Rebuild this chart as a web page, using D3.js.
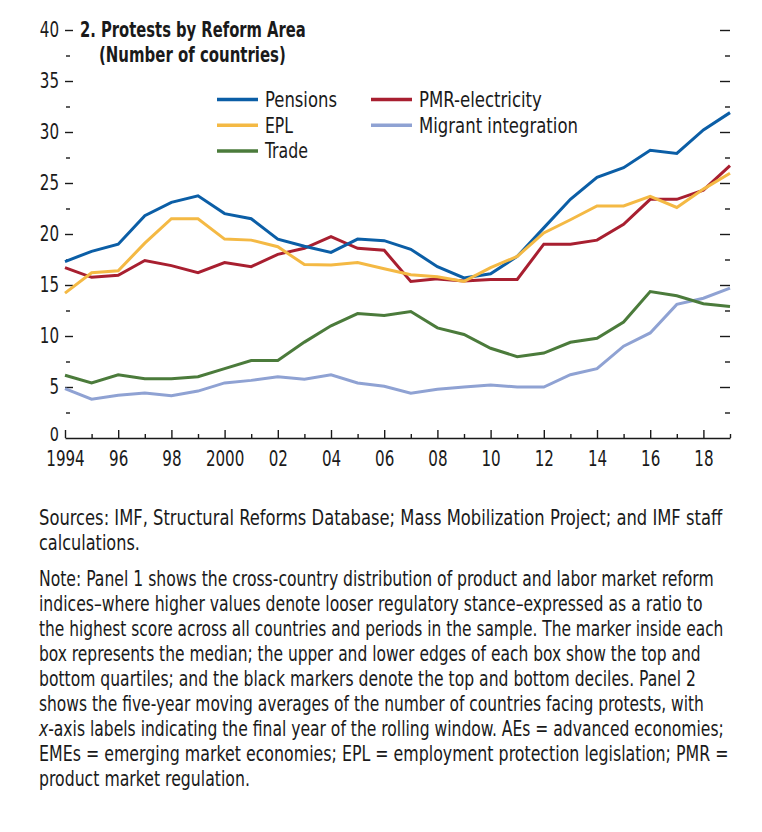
<!DOCTYPE html>
<html lang="en">
<head>
<meta charset="UTF-8">
<title>Protests by Reform Area</title>
<script src="https://d3js.org/d3.v7.min.js"></script>
<style>
  body { margin: 0; background: #fff; }
  svg text { font-family: "DejaVu Sans Condensed", "Liberation Sans Narrow", sans-serif; fill: #1a1a1a; }
</style>
</head>
<body>
<svg width="762" height="832"></svg>
<script>
// years on the x axis
const years = [1994, 1995, 1996, 1997, 1998, 1999, 2000, 2001, 2002, 2003, 2004, 2005, 2006,
               2007, 2008, 2009, 2010, 2011, 2012, 2013, 2014, 2015, 2016, 2017, 2018, 2019];

// number of countries facing protests (five-year moving averages)
const pensions = [17.3, 18.3, 19.0, 21.8, 23.1, 23.75, 22.0, 21.5, 19.5, 18.8, 18.2, 19.5, 19.35,
                  18.5, 16.8, 15.7, 16.1, 17.8, 20.6, 23.4, 25.55, 26.5, 28.2, 27.9, 30.2, 31.9];
const pmr      = [16.7, 15.75, 15.95, 17.4, 16.9, 16.2, 17.2, 16.8, 18.0, 18.6, 19.75, 18.6, 18.4,
                  15.35, 15.6, 15.4, 15.55, 15.55, 19.0, 19.0, 19.4, 20.95, 23.4, 23.4, 24.3, 26.7];
const epl      = [14.2, 16.2, 16.4, 19.1, 21.5, 21.5, 19.5, 19.4, 18.75, 17.0, 16.95, 17.2, 16.6,
                  16.0, 15.8, 15.35, 16.7, 17.8, 20.1, 21.4, 22.75, 22.75, 23.7, 22.6, 24.4, 25.95];
const migrant  = [4.84, 3.8, 4.2, 4.4, 4.15, 4.6, 5.4, 5.65, 6.0, 5.75, 6.2, 5.4, 5.07,
                  4.4, 4.77, 5.0, 5.2, 5.0, 5.0, 6.2, 6.8, 9.0, 10.3, 13.1, 13.7, 14.7];
const trade    = [6.15, 5.4, 6.2, 5.8, 5.8, 6.0, 6.8, 7.6, 7.6, 9.4, 11.0, 12.2, 12.0,
                  12.4, 10.8, 10.15, 8.8, 7.97, 8.33, 9.38, 9.77, 11.37, 14.35, 13.95, 13.17, 12.9];

const seriesNames = ["Migrant integration", "Trade", "PMR-electricity", "Pensions", "EPL"];
const seriesValues = [migrant, trade, pmr, pensions, epl];
const seriesColors = ["#8fa2d3", "#4b7b3b", "#a81f30", "#0b5ea6", "#f4b944"];

const yTicks = [0, 2.5, 5, 7.5, 10, 12.5, 15, 17.5, 20, 22.5, 25, 27.5, 30, 32.5, 35, 37.5, 40];

const title = ["2. Protests by Reform Area", "(Number of countries)"];
const sources = ["Sources: IMF, Structural Reforms Database; Mass Mobilization Project; and IMF staff",
                 "calculations."];
const note = [
  "Note: Panel 1 shows the cross-country distribution of product and labor market reform",
  "indices\u2013where higher values denote looser regulatory stance\u2013expressed as a ratio to",
  "the highest score across all countries and periods in the sample. The marker inside each",
  "box represents the median; the upper and lower edges of each box show the top and",
  "bottom quartiles; and the black markers denote the top and bottom deciles. Panel 2",
  "shows the five-year moving averages of the number of countries facing protests, with",
  "x-axis labels indicating the final year of the rolling window. AEs = advanced economies;",
  "EMEs = emerging market economies; EPL = employment protection legislation; PMR =",
  "product market regulation."
];

const svg = d3.select("svg");

// squeeze a text horizontally so it spans the given width (the source font is condensed)
function fit(t, width) {
  const w = t.node().getComputedTextLength();
  const x0 = +t.attr("x"), y0 = +t.attr("y");
  t.attr("x", 0).attr("y", 0)
    .attr("transform", `translate(${x0},${y0}) scale(${width / w},1)`);
}

const x = d3.scaleLinear().domain([1994, 2019]).range([65, 730]);
const y = d3.scaleLinear().domain([0, 40]).range([438, 30]);
const squeeze = 0.8;

// x axis, ticks point up
const xAxis = svg.append("g")
  .attr("transform", "translate(0,438)")
  .call(d3.axisBottom(x)
    .tickValues(years)
    .tickSizeInner(-8).tickSizeOuter(0)
    .tickPadding(13)
    .tickFormat(d => d % 2 ? "" : (d === 1994 || d === 2000 ? String(d) : String(d).slice(2))));
xAxis.select(".domain").attr("stroke", "#1a1a1a").attr("stroke-width", 1.6);
xAxis.selectAll(".tick line")
  .attr("stroke", "#1a1a1a").attr("stroke-width", 1.4)
  .attr("y2", d => d % 2 ? -4 : -8);
xAxis.selectAll(".tick text")
  .attr("font-size", 21).style("fill", "#1a1a1a")
  .attr("transform", `scale(${squeeze},1)`);

// left y axis: ticks drawn inward, labels to the left
const yLeft = svg.append("g")
  .attr("transform", "translate(65,0)")
  .call(d3.axisLeft(y)
    .tickValues(yTicks.filter(d => d > 0))
    .tickSizeInner(-8).tickSizeOuter(0)
    .tickPadding(6)
    .tickFormat(d => d % 5 ? "" : d));
yLeft.select(".domain").remove();
yLeft.selectAll(".tick line")
  .attr("stroke", "#1a1a1a").attr("stroke-width", 1.4)
  .attr("x1", d => d % 5 ? 1 : 0)
  .attr("x2", d => d % 5 ? 5 : 8);
yLeft.selectAll(".tick text")
  .attr("font-size", 21).style("fill", "#1a1a1a")
  .attr("x", -6 / squeeze)
  .attr("transform", `scale(${squeeze},1)`);

// zero label, nudged up so it clears the 1994 label
svg.append("text")
  .attr("transform", `translate(59,${y(0) - 4}) scale(${squeeze},1)`)
  .attr("dy", "0.36em")
  .attr("text-anchor", "end").attr("font-size", 20)
  .text("0");

// right y axis: ticks only
const yRight = svg.append("g")
  .attr("transform", "translate(730,0)")
  .call(d3.axisRight(y)
    .tickValues(yTicks.filter(d => d > 0))
    .tickSizeInner(-10).tickSizeOuter(0)
    .tickFormat(""));
yRight.select(".domain").remove();
yRight.selectAll(".tick line")
  .attr("stroke", "#1a1a1a").attr("stroke-width", 1.4)
  .attr("x2", d => d % 5 ? -5 : -10);

// lines
const line = d3.line()
  .x((d, i) => x(years[i]))
  .y(d => y(d));

svg.append("g").selectAll("path")
  .data(seriesValues)
  .join("path")
  .attr("d", line)
  .attr("fill", "none")
  .attr("stroke", (d, i) => seriesColors[i])
  .attr("stroke-width", 3)
  .attr("stroke-linejoin", "miter");

// title
fit(svg.append("text")
  .attr("x", 80).attr("y", 37)
  .attr("font-size", 21).attr("font-weight", "bold")
  .text(title[0]), 226);
fit(svg.append("text")
  .attr("x", 99).attr("y", 62)
  .attr("font-size", 21).attr("font-weight", "bold")
  .text(title[1]), 187);

// legend
const legendItems = [
  { name: "Pensions", col: 0, row: 0, w: 72 },
  { name: "EPL", col: 0, row: 1, w: 28 },
  { name: "Trade", col: 0, row: 2, w: 43 },
  { name: "PMR-electricity", col: 1, row: 0, w: 123 },
  { name: "Migrant integration", col: 1, row: 1, w: 159 }
];
const legendX = [217, 371];
const legend = svg.append("g");
legendItems.forEach(item => {
  const idx = seriesNames.indexOf(item.name);
  const ly = 99.5 + item.row * 25.7;
  const lx = legendX[item.col];
  legend.append("line")
    .attr("x1", lx).attr("x2", lx + 41)
    .attr("y1", ly).attr("y2", ly)
    .attr("stroke", seriesColors[idx]).attr("stroke-width", 3.5);
  fit(legend.append("text")
    .attr("x", lx + 48).attr("y", ly + 7.3)
    .attr("font-size", 22)
    .text(item.name), item.w);
});

// footnotes
const sourceWidths = [684, 101];
const noteWidths = [675, 664, 685, 662, 657, 665, 685, 690, 211];
const foot = svg.append("g").attr("font-size", 21);
sources.forEach((s, i) => {
  fit(foot.append("text")
    .attr("x", 39).attr("y", 525 + i * 25)
    .text(s), sourceWidths[i]);
});
note.forEach((s, i) => {
  const t = foot.append("text")
    .attr("x", 39).attr("y", 586 + i * 25);
  if (s.startsWith("x-axis")) {
    t.append("tspan").attr("font-style", "italic").text("x");
    t.append("tspan").text(s.slice(1));
  } else {
    t.text(s);
  }
  fit(t, noteWidths[i]);
});
</script>
</body>
</html>
